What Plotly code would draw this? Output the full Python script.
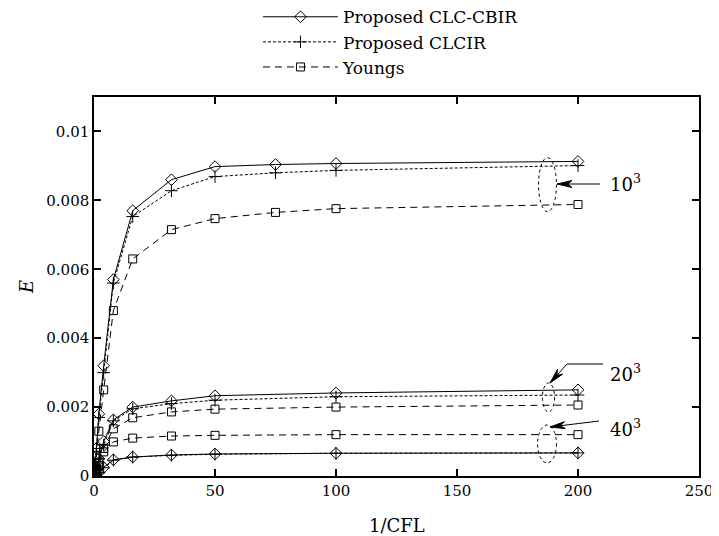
import math
import plotly.graph_objects as go

# ---- data ----
x_10 = [0.5, 1, 2, 4, 8, 16, 32, 50, 75, 100, 200]
cbir_10 = [0.0003, 0.0008, 0.0018, 0.0032, 0.0057, 0.0077, 0.0086, 0.00898, 0.00904, 0.00907, 0.00913]
clcir_10 = [0.0003, 0.0008, 0.0017, 0.0030, 0.0056, 0.00753, 0.00828, 0.00869, 0.0088, 0.00887, 0.00901]
youngs_10 = [0.0002, 0.0006, 0.0013, 0.0025, 0.0048, 0.0063, 0.00715, 0.00747, 0.00765, 0.00776, 0.00788]

x_20 = [0.5, 1, 2, 4, 8, 16, 32, 50, 100, 200]
cbir_20 = [0.0001, 0.0002, 0.0005, 0.0010, 0.00163, 0.0020, 0.00218, 0.00233, 0.00241, 0.0025]
clcir_20 = [0.0001, 0.0002, 0.0005, 0.0009, 0.0016, 0.00195, 0.0021, 0.0022, 0.0023, 0.00235]
youngs_20 = [0.0001, 0.0002, 0.0004, 0.0008, 0.00137, 0.00169, 0.00186, 0.00194, 0.0020, 0.00206]

x_40 = [0.5, 1, 2, 4, 8, 16, 32, 50, 100, 200]
cbir_40 = [0.00002, 0.00005, 0.0001, 0.00025, 0.00047, 0.00055, 0.00061, 0.00064, 0.00066, 0.00067]
clcir_40 = [0.00002, 0.00005, 0.0001, 0.00024, 0.00046, 0.00055, 0.0006, 0.00063, 0.00066, 0.00067]
youngs_40 = [0.00005, 0.0001, 0.0003, 0.0007, 0.00099, 0.0011, 0.00116, 0.00118, 0.0012, 0.0012]

series_names = ["Proposed CLC-CBIR", "Proposed CLCIR", "Youngs"]
x_ticks = [0, 50, 100, 150, 200, 250]
y_ticks = [0, 0.002, 0.004, 0.006, 0.008, 0.01]
y_tick_text = ["0", "0.002", "0.004", "0.006", "0.008", "0.01"]
group_labels = ["10<sup>3</sup>", "20<sup>3</sup>", "40<sup>3</sup>"]

FONT = "DejaVu Serif"
OFF = 8  # default page body margin
W, H = 719 - OFF, 536 - OFF
ML, MR, MT, MB = 94 - OFF, 20, 97 - OFF, 60
XR = [0, 250]
YR = [0, 0.011]
PW = W - ML - MR
PH = H - MT - MB

def to_data(px, py):
    # px, py are page pixel positions
    px -= OFF
    py -= OFF
    return (XR[0] + (px - ML) / PW * (XR[1] - XR[0]),
            YR[0] + (H - MB - py) / PH * (YR[1] - YR[0]))

styles = [
    dict(dash="solid", symbol="diamond-open", size=9),
    dict(dash="3px,2px", symbol="cross-thin-open", size=9),
    dict(dash="7px,5px", symbol="square-open", size=8),
]

fig = go.Figure()
groups = [
    (x_10, [cbir_10, clcir_10, youngs_10]),
    (x_20, [cbir_20, clcir_20, youngs_20]),
    (x_40, [cbir_40, clcir_40, youngs_40]),
]
for gi, (xs, ys_list) in enumerate(groups):
    for si, ys in enumerate(ys_list):
        st = styles[si]
        fig.add_trace(go.Scatter(
            x=xs, y=ys, mode="lines+markers",
            name=series_names[si], legendgroup=series_names[si],
            showlegend=(gi == 0),
            line=dict(color="black", width=1, dash=st["dash"]),
            marker=dict(symbol=st["symbol"], size=st["size"], color="black",
                        line=dict(color="black", width=1)),
        ))

# dotted ellipses
for (x0, x1, y0, y1) in [(183.7, 191.1, 0.00767, 0.00924),
                         (185.3, 190.3, 0.00186, 0.0027),
                         (183.3, 191.1, 0.00038, 0.00148)]:
    fig.add_shape(type="circle", xref="x", yref="y", x0=x0, x1=x1, y0=y0, y1=y1,
                  line=dict(color="black", width=1, dash="dot"))

# leader lines with arrowheads (page pixel geometry converted to data coords)
leaders = [
    [(600, 184), (557, 184)],
    [(603, 364), (567, 364), (550, 383)],
    [(599, 421), (550, 427)],
]
for pts in leaders:
    for (p0, p1) in zip(pts[:-1], pts[1:]):
        a = to_data(*p0)
        b = to_data(*p1)
        fig.add_shape(type="line", xref="x", yref="y", x0=a[0], y0=a[1], x1=b[0], y1=b[1],
                      line=dict(color="black", width=1))
    (tx, ty), (hx, hy) = pts[-2], pts[-1]
    d = math.hypot(hx - tx, hy - ty)
    ux, uy = (hx - tx) / d, (hy - ty) / d
    L, w = 15, 3.5
    bx, by = hx - ux * L, hy - uy * L
    c1 = (bx - uy * w, by + ux * w)
    c2 = (bx + uy * w, by - ux * w)
    mid = (hx - ux * L * 0.7, hy - uy * L * 0.7)
    path_pts = [to_data(hx, hy), to_data(*c1), to_data(*mid), to_data(*c2)]
    path = "M " + " L ".join(f"{p[0]:.4f},{p[1]:.7f}" for p in path_pts) + " Z"
    fig.add_shape(type="path", xref="x", yref="y", path=path,
                  fillcolor="black", line=dict(color="black", width=1))

for lbl, ly in zip(group_labels, [0.0085, 0.0030, 0.0014]):
    fig.add_annotation(x=219.5, y=ly, xref="x", yref="y", text=lbl, showarrow=False,
                       font=dict(family=FONT, size=18, color="black"))

# x-axis title placed as an annotation for exact vertical position
fig.add_annotation(x=0.5, y=(H - MB - (525 - OFF)) / PH, xref="paper", yref="paper",
                   text="1/CFL", showarrow=False, yanchor="middle",
                   font=dict(family=FONT, size=18, color="black"))

axis_common = dict(showline=True, linecolor="black", linewidth=1.5, mirror="ticks",
                   ticks="inside", ticklen=7, tickwidth=1.5, tickcolor="black",
                   showgrid=False, zeroline=False, automargin=False,
                   tickfont=dict(family=FONT, size=15, color="black"))

fig.update_xaxes(range=XR, tickvals=x_ticks, **axis_common)
fig.update_yaxes(range=YR, tickvals=y_ticks, ticktext=y_tick_text,
                 title=dict(text="<i>E</i>", font=dict(family=FONT, size=18, color="black"), standoff=8),
                 **axis_common)

fig.update_layout(
    width=W, height=H,
    margin=dict(l=ML, r=MR, t=MT, b=MB, autoexpand=False),
    paper_bgcolor="white", plot_bgcolor="white",
    font=dict(family=FONT, color="black"),
    legend=dict(x=0.271, y=1.258, xanchor="left", yanchor="top",
                font=dict(family=FONT, size=17, color="black"),
                bgcolor="rgba(0,0,0,0)", itemwidth=75, tracegroupgap=0),
)

fig.write_html("out.html")
